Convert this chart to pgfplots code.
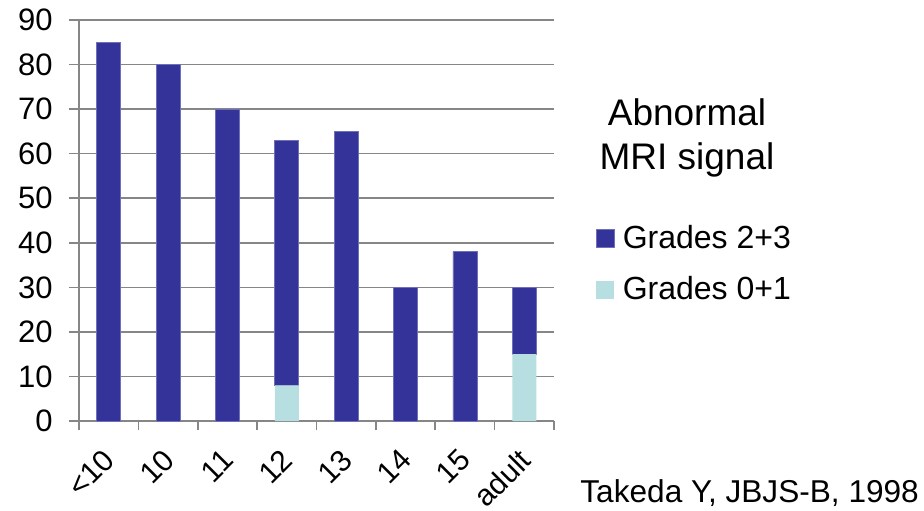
\documentclass[border=0pt]{standalone}
\usepackage{pgfplots}
\pgfplotsset{compat=1.18}
\usepackage{fontspec}
\setmainfont{Liberation Sans}
\definecolor{dkblue}{HTML}{333399}
\definecolor{ltblue}{HTML}{B7DEE1}
\definecolor{axgray}{HTML}{868686}
\begin{document}
\begin{tikzpicture}
\path[use as bounding box] (-39.5pt,-44.5pt) rectangle (422.5pt,210.5pt);
\begin{axis}[
  at={(0pt,0pt)}, anchor=south west,
  scale only axis, width=237.5pt, height=200.5pt,
  ybar stacked, bar width=12pt,
  xmin=-0.5, xmax=7.5, ymin=0, ymax=90,
  enlargelimits=false,
  xtick={0,1,2,3,4,5,6,7},
  xticklabels={{<10},10,11,12,13,14,15,adult},
  minor xtick={-0.5,0.5,1.5,2.5,3.5,4.5,5.5,6.5,7.5},
  ytick={0,10,20,30,40,50,60,70,80,90},
  axis lines*=left,
  axis line style={axgray, line width=0.8pt},
  ymajorgrids,
  grid style={axgray, line width=0.8pt},
  tick align=outside,
  major tick length=5pt, minor tick length=4.5pt,
  tick style={axgray, line width=0.8pt},
  major x tick style={draw=none},
  /pgf/number format/assume math mode=true,
  yticklabel style={anchor=east, inner sep=0pt, xshift=-8pt, font=\fontsize{15.5}{18}\selectfont},
  xticklabel style={xshift=-3.5pt, yshift=-8pt, rotate=45, anchor=north east, inner sep=0pt, font=\fontsize{15}{18}\selectfont},
  legend style={draw=none, fill=none, at={(1.0884,0.488)}, anchor=north west, inner sep=0pt, outer sep=0pt, font=\fontsize{16}{19}\selectfont, row sep=12.5pt, nodes={inner sep=0pt}, /tikz/every odd column/.style={column sep=4pt}},
  legend image code/.code={\fill[#1] (0pt,-4.5pt) rectangle (9pt,4.5pt);},
  legend cell align=left,
  reverse legend,
]
\addplot[fill=ltblue, draw=none] coordinates {(0,0) (1,0) (2,0) (3,8) (4,0) (5,0) (6,0) (7,15)};
\addplot[fill=dkblue, draw=dkblue!70!white, line width=0.4pt] coordinates {(0,85) (1,80) (2,70) (3,55) (4,65) (5,30) (6,38) (7,15)};
\legend{Grades 0+1, Grades 2+3}
\end{axis}
\node[anchor=base, inner sep=0pt, font=\fontsize{18.5}{22}\selectfont] at (304pt,148pt) {Abnormal};
\node[anchor=base, inner sep=0pt, font=\fontsize{18.5}{22}\selectfont] at (304pt,126pt) {MRI signal};
\node[anchor=base west, inner sep=0pt, font=\fontsize{15.8}{18}\selectfont] at (250.5pt,-40.5pt) {Takeda Y, JBJS-B, 1998};
\end{tikzpicture}
\end{document}
